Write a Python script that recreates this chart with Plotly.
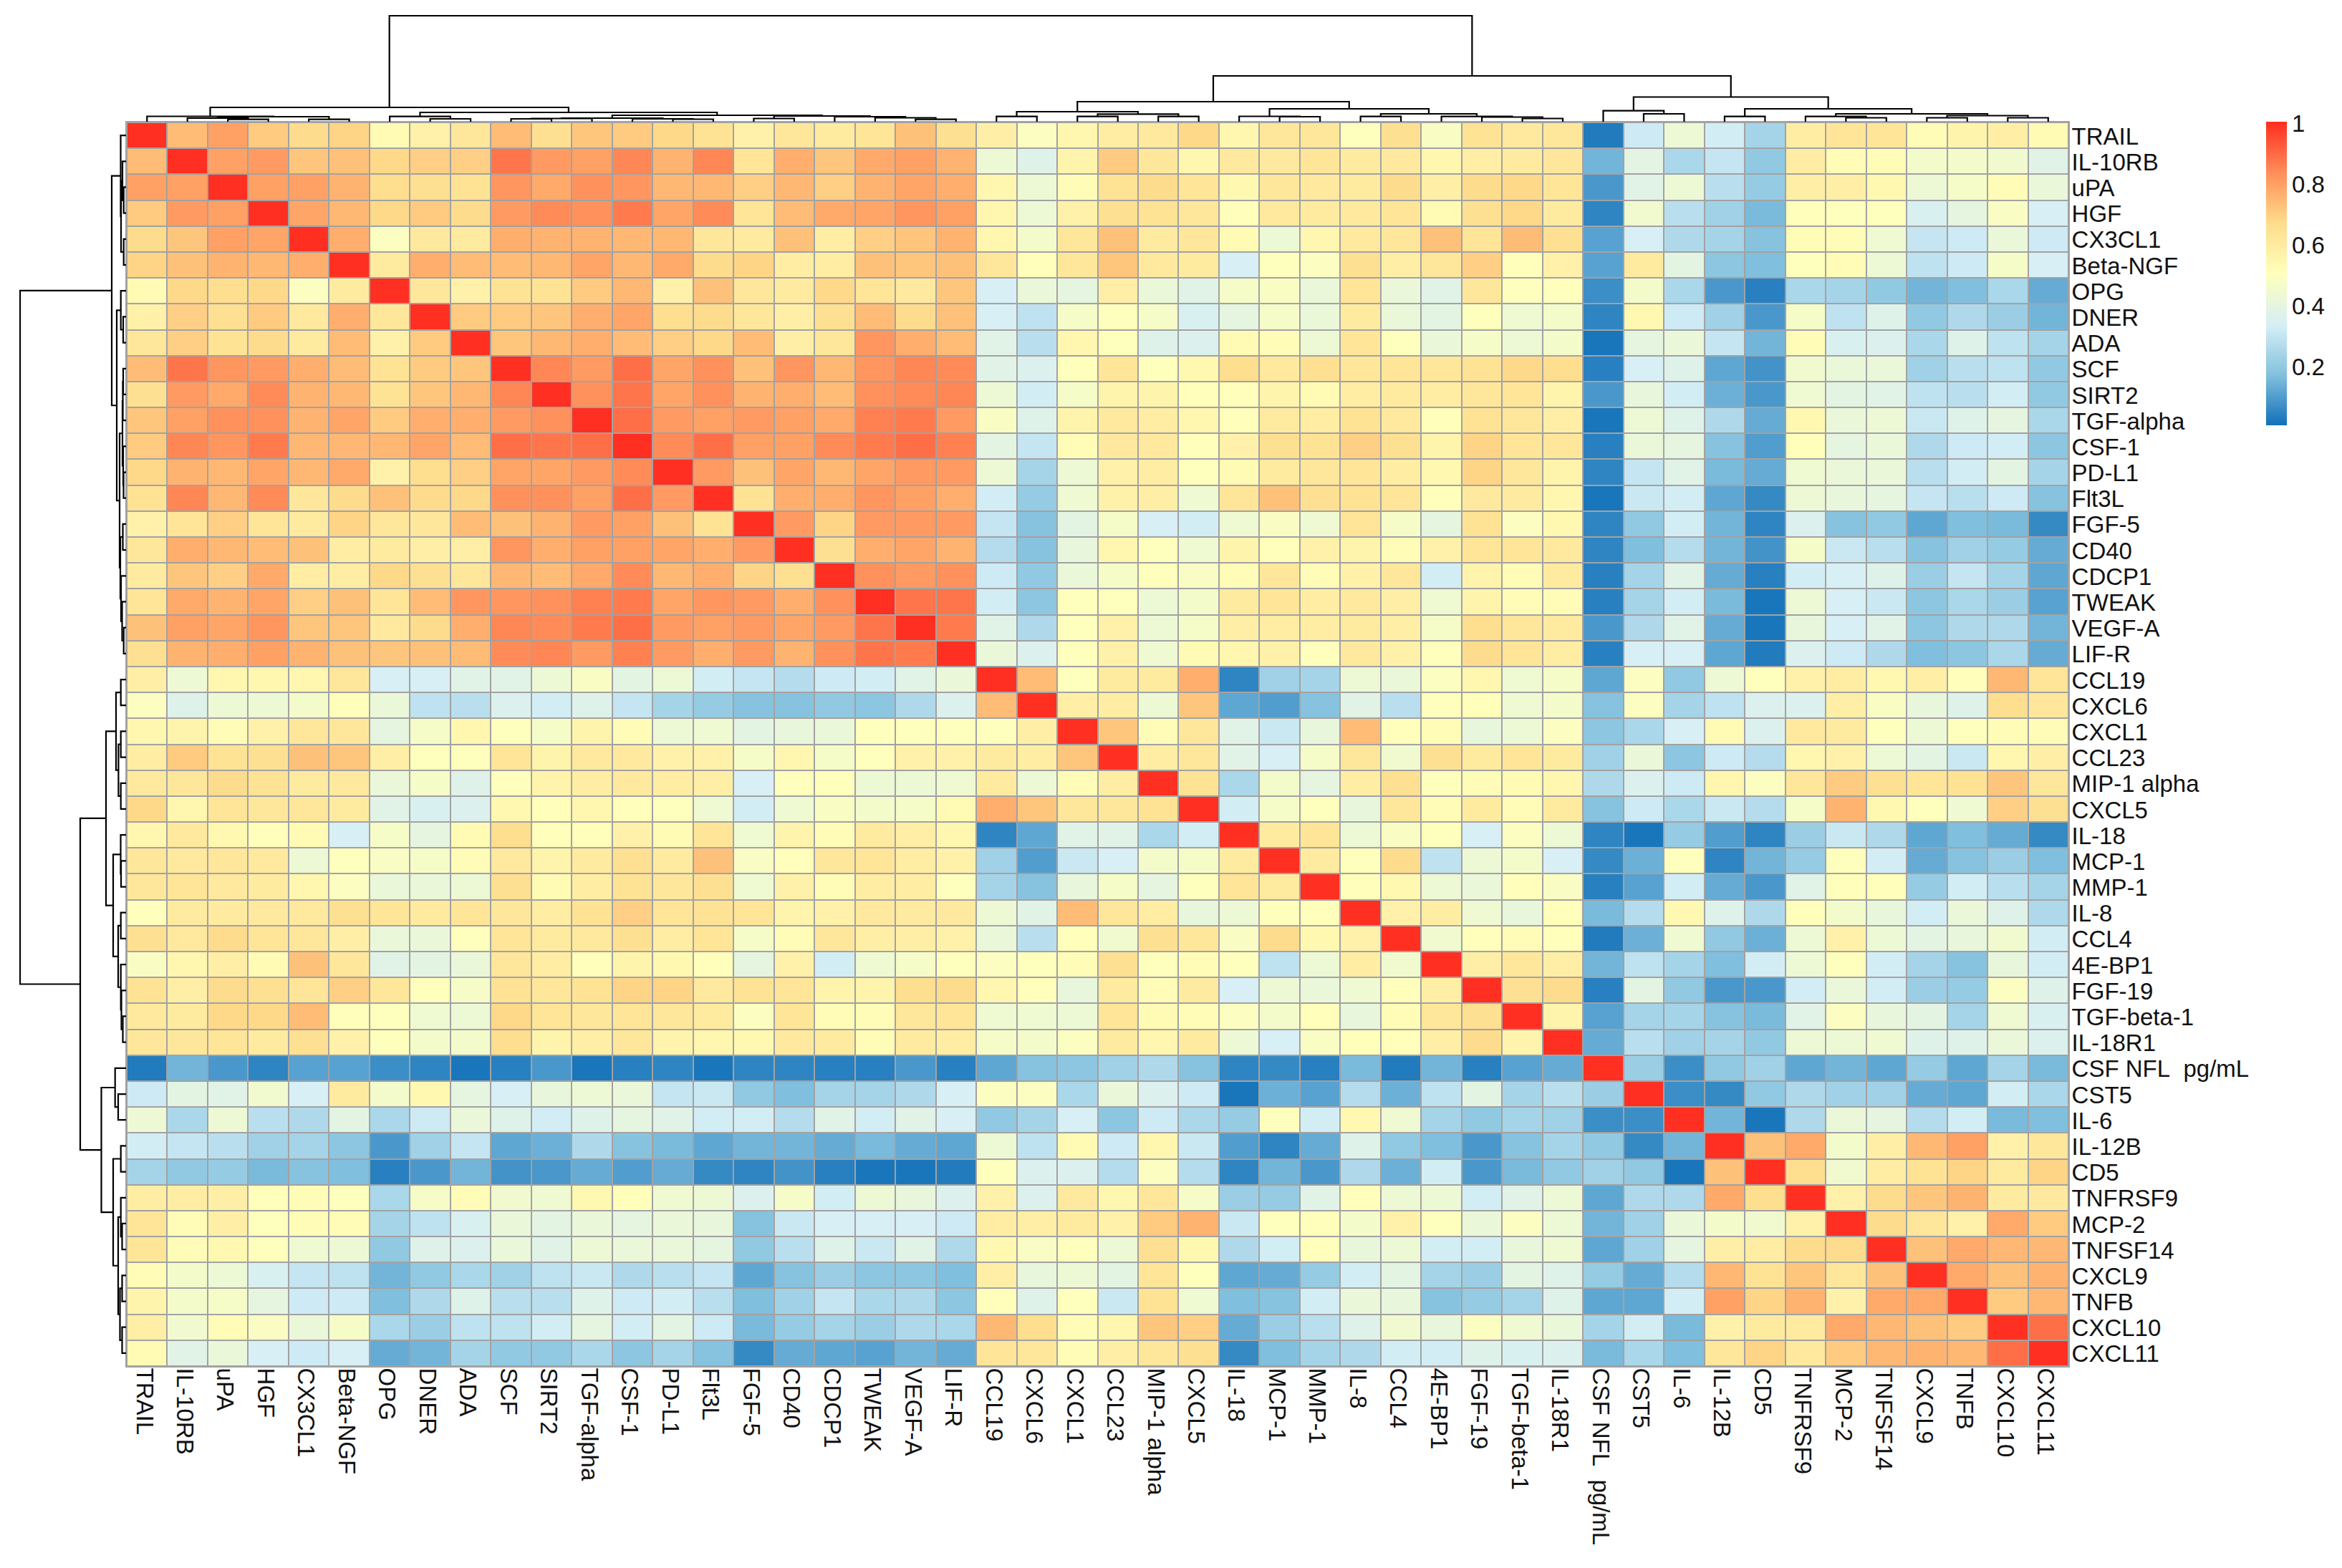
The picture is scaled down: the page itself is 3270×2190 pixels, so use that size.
import plotly.graph_objects as go

labels = ["TRAIL","IL-10RB","uPA","HGF","CX3CL1","Beta-NGF","OPG","DNER","ADA","SCF","SIRT2","TGF-alpha","CSF-1","PD-L1","Flt3L","FGF-5","CD40","CDCP1","TWEAK","VEGF-A","LIF-R",
          "CCL19","CXCL6","CXCL1","CCL23","MIP-1 alpha","CXCL5","IL-18","MCP-1","MMP-1","IL-8","CCL4","4E-BP1","FGF-19","TGF-beta-1","IL-18R1",
          "CSF NFL\u00a0 pg/mL","CST5","IL-6","IL-12B","CD5","TNFRSF9","MCP-2","TNFSF14","CXCL9","TNFB","CXCL10","CXCL11"]
colorbar_ticks = [0.2, 0.4, 0.6, 0.8, 1]

# upper triangle of the correlation matrix, one row per protein, starting right of the diagonal
r01 = [.74,.80,.71,.67,.69,.53,.57,.62,.74,.65,.72,.71,.68,.64,.57,.62,.60,.63,.73,.65, .58,.49,.55,.59,.61,.68,.55,.62,.62,.50,.65,.48,.64,.61,.62,.03,.32,.43,.33,.24,.59,.63,.63,.52,.56,.58,.53]
r02 = [.80,.81,.72,.73,.68,.70,.70,.88,.81,.80,.85,.76,.85,.63,.77,.72,.78,.80,.76, .43,.37,.56,.71,.62,.55,.61,.61,.63,.60,.61,.55,.58,.60,.62,.15,.39,.25,.30,.20,.59,.52,.52,.46,.46,.45,.38]
r03 = [.80,.80,.76,.66,.65,.64,.82,.78,.83,.82,.75,.75,.70,.75,.70,.76,.79,.77, .55,.43,.52,.64,.67,.63,.54,.62,.61,.60,.67,.58,.67,.68,.63,.09,.38,.43,.28,.21,.58,.58,.54,.43,.47,.52,.42]
r04 = [.79,.75,.68,.71,.67,.81,.84,.83,.87,.79,.84,.63,.74,.78,.79,.82,.80, .55,.43,.57,.65,.64,.62,.51,.61,.60,.61,.63,.53,.65,.68,.60,.05,.45,.28,.23,.16,.51,.50,.50,.35,.40,.48,.34]
r05 = [.77,.49,.61,.60,.77,.76,.76,.75,.75,.62,.60,.73,.59,.70,.72,.76, .55,.46,.62,.73,.60,.62,.53,.43,.55,.61,.62,.73,.63,.74,.65,.11,.34,.26,.24,.18,.52,.52,.44,.30,.32,.42,.32]
r06 = [.60,.77,.74,.74,.75,.79,.75,.78,.67,.69,.59,.59,.73,.72,.73, .62,.51,.62,.72,.61,.60,.34,.50,.49,.65,.58,.62,.70,.51,.57,.11,.60,.39,.19,.17,.50,.52,.43,.29,.32,.47,.34]
r07 = [.62,.57,.64,.64,.71,.75,.57,.73,.62,.60,.68,.63,.61,.72, .34,.42,.40,.58,.42,.38,.47,.48,.42,.63,.42,.38,.62,.50,.50,.07,.46,.25,.09,.04,.25,.24,.20,.15,.17,.25,.13]
r08 = [.71,.71,.72,.77,.79,.66,.67,.62,.58,.65,.74,.67,.73, .34,.29,.47,.50,.47,.35,.40,.47,.42,.60,.42,.39,.50,.44,.46,.05,.54,.32,.23,.09,.47,.29,.37,.20,.26,.22,.15]
r09 = [.72,.75,.77,.74,.70,.68,.74,.58,.62,.82,.77,.74, .38,.28,.55,.50,.37,.36,.53,.52,.43,.63,.50,.42,.47,.43,.46,.02,.40,.42,.30,.15,.52,.35,.36,.25,.37,.29,.24]
r10 = [.85,.81,.89,.79,.83,.73,.82,.75,.82,.85,.84, .38,.36,.50,.63,.50,.54,.66,.61,.65,.62,.63,.62,.64,.68,.66,.04,.34,.37,.12,.08,.45,.42,.42,.23,.28,.29,.20]
r11 = [.83,.88,.79,.83,.76,.77,.74,.83,.84,.85, .43,.33,.47,.56,.56,.51,.51,.56,.53,.59,.60,.59,.62,.63,.56,.09,.41,.33,.14,.09,.44,.39,.38,.29,.28,.33,.20]
r12 = [.89,.81,.80,.81,.80,.78,.86,.87,.81, .48,.37,.56,.61,.59,.55,.51,.60,.59,.64,.61,.51,.64,.62,.58,.02,.43,.37,.26,.13,.54,.42,.43,.31,.37,.40,.25]
r13 = [.84,.89,.80,.80,.84,.87,.89,.86, .39,.30,.52,.61,.61,.51,.57,.65,.64,.70,.65,.56,.69,.63,.62,.04,.42,.40,.18,.10,.51,.40,.42,.26,.32,.33,.19]
r14 = [.81,.73,.79,.75,.79,.81,.81, .43,.24,.43,.57,.59,.50,.53,.60,.62,.63,.59,.54,.69,.62,.56,.05,.30,.38,.16,.13,.44,.42,.42,.28,.33,.39,.24]
r15 = [.64,.77,.77,.82,.80,.77, .33,.21,.44,.57,.58,.44,.63,.73,.65,.64,.63,.51,.61,.60,.55,.02,.31,.33,.12,.06,.43,.41,.40,.30,.28,.32,.18]
r16 = [.81,.69,.81,.81,.81, .30,.18,.39,.47,.34,.33,.44,.48,.44,.63,.47,.40,.64,.49,.54,.05,.20,.33,.15,.05,.36,.18,.20,.12,.17,.16,.06]
r17 = [.65,.77,.79,.76, .27,.18,.41,.55,.50,.44,.56,.51,.57,.56,.52,.57,.63,.63,.61,.05,.17,.27,.15,.08,.47,.31,.28,.18,.23,.21,.13]
r18 = [.83,.81,.83, .32,.20,.42,.47,.50,.48,.52,.62,.52,.57,.62,.33,.56,.52,.60,.04,.24,.38,.13,.04,.33,.34,.37,.22,.30,.24,.12]
r19 = [.88,.88, .33,.19,.50,.50,.43,.46,.60,.63,.59,.61,.58,.44,.56,.52,.52,.04,.24,.33,.16,.02,.43,.34,.31,.19,.25,.22,.11]
r20 = [.87, .38,.26,.50,.57,.43,.47,.58,.59,.59,.60,.58,.47,.66,.62,.60,.09,.26,.38,.13,.02,.41,.34,.38,.19,.26,.26,.15]
r21 = [.42,.36,.50,.57,.44,.53,.55,.57,.50,.61,.57,.50,.67,.63,.59,.04,.34,.34,.12,.03,.36,.32,.26,.17,.19,.25,.13]
r22 = [.74,.50,.60,.60,.77,.05,.23,.24,.43,.42,.49,.55,.44,.47,.12,.49,.20,.43,.50,.57,.59,.54,.58,.51,.75,.63]
r23 = [.58,.59,.43,.72,.12,.10,.18,.38,.28,.50,.51,.44,.46,.18,.49,.24,.29,.36,.36,.58,.48,.41,.37,.66,.62]
r24 = [.72,.52,.62,.38,.31,.41,.74,.51,.52,.41,.43,.49,.19,.25,.34,.53,.36,.61,.60,.50,.43,.50,.52,.52]
r25 = [.59,.62,.38,.34,.47,.62,.45,.65,.60,.63,.60,.23,.42,.19,.32,.27,.55,.57,.43,.39,.31,.55,.58]
r26 = [.64,.25,.46,.40,.59,.65,.50,.52,.53,.55,.26,.36,.32,.55,.49,.62,.71,.65,.63,.64,.72,.62]
r27 = [.33,.47,.50,.41,.62,.52,.60,.52,.60,.18,.32,.25,.31,.27,.47,.76,.54,.50,.44,.70,.65]
r28 = [.60,.63,.43,.48,.50,.34,.49,.43,.05,.02,.21,.10,.05,.22,.31,.26,.12,.17,.13,.06]
r29 = [.60,.50,.67,.29,.43,.46,.34,.06,.14,.50,.05,.15,.21,.50,.33,.13,.18,.22,.17]
r30 = [.51,.54,.43,.42,.51,.48,.04,.11,.33,.13,.09,.38,.51,.51,.21,.33,.28,.24]
r31 = [.57,.59,.44,.41,.51,.16,.27,.54,.37,.26,.51,.46,.41,.33,.42,.37,.26]
r32 = [.45,.51,.52,.51,.03,.14,.44,.20,.14,.43,.57,.43,.39,.41,.45,.33]
r33 = [.58,.62,.58,.15,.29,.24,.17,.33,.43,.50,.33,.24,.18,.41,.33]
r34 = [.65,.67,.04,.39,.20,.09,.09,.33,.42,.33,.22,.21,.49,.37]
r35 = [.56,.11,.24,.24,.18,.16,.38,.49,.41,.39,.24,.44,.35]
r36 = [.13,.28,.23,.24,.20,.43,.43,.44,.37,.37,.42,.36]
r37 = [.22,.07,.20,.23,.12,.15,.12,.21,.12,.24,.16]
r38 = [.07,.06,.20,.26,.23,.23,.13,.12,.33,.25]
r39 = [.15,.02,.26,.42,.40,.27,.33,.16,.17]
r40 = [.73,.78,.46,.58,.75,.80,.57,.62]
r41 = [.66,.45,.59,.64,.69,.60,.69]
r42 = [.57,.67,.72,.76,.60,.61]
r43 = [.67,.62,.57,.78,.71]
r44 = [.73,.78,.75,.75]
r45 = [.78,.73,.76]
r46 = [.71,.75]
r47 = [.89]
rows = [r01,r02,r03,r04,r05,r06,r07,r08,r09,r10,r11,r12,r13,r14,r15,r16,r17,r18,r19,r20,r21,r22,r23,r24,
        r25,r26,r27,r28,r29,r30,r31,r32,r33,r34,r35,r36,r37,r38,r39,r40,r41,r42,r43,r44,r45,r46,r47]

# clustering tree: [merge height, left, right]; leaves are protein names
L = labels
t_a1 = [7.5, "TRAIL", [7, [5, "IL-10RB", [3.3, "uPA", "HGF"]], [3.3, "CX3CL1", "Beta-NGF"]]]
t_a2 = [7.3, "OPG", [4, "DNER", "ADA"]]
t_a3 = [5, [4.5, [4, "SCF", "SIRT2"], "TGF-alpha"], [4, "CSF-1", [3.5, "PD-L1", "Flt3L"]]]
t_a4 = [8, [4.5, "FGF-5", "CD40"], [7, "CDCP1", [5.5, "TWEAK", [3.3, "VEGF-A", "LIF-R"]]]]
t_a = [20, t_a1, [13, t_a2, [9, t_a3, t_a4]]]
t_b1 = [14, [7.3, "CCL19", "CXCL6"], [10.6, [7.3, "CXCL1", "CCL23"], [7.3, "MIP-1 alpha", "CXCL5"]]]
t_b2 = [18, [7.5, "IL-18", [7, "MCP-1", "MMP-1"]],
        [11, [7.3, "IL-8", "CCL4"], [7.3, "4E-BP1", [6.5, "FGF-19", [4.5, "TGF-beta-1", "IL-18R1"]]]]]
t_c1 = [15.3, L[36], [11, "CST5", "IL-6"]]
t_c2 = [18, [7.3, "IL-12B", "CD5"], [11, [7.3, "TNFRSF9", [5.5, "MCP-2", "TNFSF14"]],
        [8.5, [5.5, "CXCL9", "TNFB"], [5.5, "CXCL10", "CXCL11"]]]]
tree = [148, t_a, [64, [28, t_b1, t_b2], [34.5, t_c1, t_c2]]]

n = len(labels)
z = [[None] * n for _ in range(n)]
for i in range(n):
    z[i][i] = 1.0
for i, row in enumerate(rows):
    assert len(row) == n - i - 1, i
    for k, v in enumerate(row):
        z[i][i + 1 + k] = v
        z[i + 1 + k][i] = v

def walk(node, pos, hts):
    """Return (position, height) of a node and append its bracket."""
    if isinstance(node, str):
        return labels.index(node), 0
    p1, h1 = walk(node[1], pos, hts)
    p2, h2 = walk(node[2], pos, hts)
    pos += [p1, p1, p2, p2, None]
    hts += [h1, node[0], node[0], h2, None]
    return (p1 + p2) / 2, node[0]

pos, hts = [], []
walk(tree, pos, hts)

W, H = 3270, 2190
HM_L, HM_R, HM_T, HM_B = 177, 2888, 171, 1908
DEND = 149
GRID = "#a2a2a2"
fx = lambda p: p / W
fy = lambda p: 1 - p / H

colorscale = [[0, "#1170b8"], [0.17, "#85c2df"], [0.33, "#d6eff6"], [0.5, "#ffffbb"],
              [0.67, "#fedb8b"], [0.83, "#ff8f5a"], [1, "#ff2d20"]]
FONT = "Liberation Sans, Arial, sans-serif"
tickfont = dict(family=FONT, size=33, color="#111")

fig = go.Figure()
fig.add_trace(go.Heatmap(
    z=z, x=labels, y=labels, zmin=0.007, zmax=1.005, colorscale=colorscale, xgap=2, ygap=2,
    hoverinfo="skip",
    colorbar=dict(x=3164 / W, xanchor="left", y=fy(170), yanchor="top", len=424, lenmode="pixels",
                  thickness=29, thicknessmode="pixels", xpad=0, ypad=0, outlinewidth=0, ticks="",
                  tickmode="array", tickvals=colorbar_ticks, ticktext=["0.2", "0.4", "0.6", "0.8", "1"],
                  tickfont=tickfont)))
line = dict(color="black", width=2.2)
fig.add_trace(go.Scatter(x=pos, y=hts, mode="lines", line=line, xaxis="x2", yaxis="y2", hoverinfo="skip", showlegend=False))
fig.add_trace(go.Scatter(x=hts, y=pos, mode="lines", line=line, xaxis="x3", yaxis="y3", hoverinfo="skip", showlegend=False))

hidden = dict(visible=False, fixedrange=True)
fig.update_layout(
    width=W, height=H, margin=dict(l=0, r=0, t=0, b=0), paper_bgcolor="white", plot_bgcolor="white",
    showlegend=False, font=dict(family=FONT, size=33, color="#111"),
    shapes=[dict(type="rect", xref="paper", yref="paper", x0=fx(HM_L), x1=fx(HM_R), y0=fy(HM_B), y1=fy(HM_T),
                 fillcolor=GRID, line=dict(width=0), layer="below")],
    xaxis=dict(domain=[fx(HM_L), fx(HM_R)], side="bottom", tickangle=90, ticks="", tickmode="array",
               tickvals=labels, ticktext=labels, showgrid=False, zeroline=False, anchor="y",
               range=[-0.5, n - 0.5], showline=True, linecolor=GRID, linewidth=2, mirror=True,
               ticklabelstandoff=-6, ticklabelshift=-4, tickfont=tickfont),
    yaxis=dict(domain=[fy(HM_B), fy(HM_T)], side="right", ticks="", tickmode="array",
               tickvals=labels, ticktext=labels, showgrid=False, zeroline=False, anchor="x",
               range=[n - 0.5, -0.5], showline=True, linecolor=GRID, linewidth=2, mirror=True,
               ticklabelstandoff=-4, ticklabelshift=-1, tickfont=tickfont),
    xaxis2=dict(domain=[fx(HM_L), fx(HM_R)], range=[-0.5, n - 0.5], anchor="y2", **hidden),
    yaxis2=dict(domain=[fy(HM_T - 1), fy(HM_T - 1 - DEND)], range=[0, DEND], anchor="x2", **hidden),
    xaxis3=dict(domain=[fx(HM_L - 1 - DEND), fx(HM_L - 1)], range=[DEND, 0], anchor="y3", **hidden),
    yaxis3=dict(domain=[fy(HM_B), fy(HM_T)], range=[n - 0.5, -0.5], anchor="x3", **hidden),
)
fig.write_html("out.html", config={"displayModeBar": False},
               post_script="document.body.style.margin='0';document.body.style.overflow='hidden';")
